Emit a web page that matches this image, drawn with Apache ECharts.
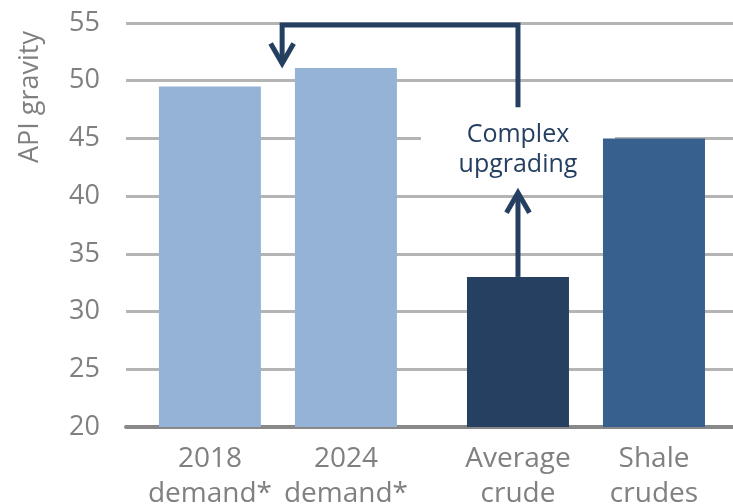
<!DOCTYPE html>
<html>
<head>
<meta charset="utf-8">
<style>
  html, body { margin: 0; padding: 0; background: #ffffff; }
  #chart { width: 733px; height: 504px; }
</style>
<script src="https://cdn.jsdelivr.net/npm/echarts@6/dist/echarts.min.js"></script>
</head>
<body>
<div id="chart"></div>
<script>
// ---- data ----
const categories = ['2018\ndemand*', '2024\ndemand*', 'Average\ncrude', 'Shale\ncrudes'];
const xPositions = [1, 2, 3.265, 4.265];
const apiGravity = [49.5, 51.1, 33.0, 45.0];
const barColors = ['#95B3D7', '#95B3D7', '#254061', '#37608F'];
const yTicks = { min: 20, max: 55, interval: 5 };
const yAxisTitle = 'API gravity';
const annotationText = 'Complex\nupgrading';
const annotationPos = [3.265, 44.0];
const upgradeArrow = [[3.265, 33.0], [3.265, 40.3]];
const returnArrow = [[3.265, 47.7], [3.265, 54.83], [1.531, 54.83], [1.531, 51.5]];

const FONT = '"Open Sans", "Noto Sans", sans-serif';
const GRAY = '#808080';
const NAVY = '#243F60';

const chart = echarts.init(document.getElementById('chart'), null, { renderer: 'canvas' });

function arrowHead(pts) {
  const a = pts[pts.length - 2], b = pts[pts.length - 1];
  const dx = b[0] - a[0], dy = b[1] - a[1];
  const len = Math.sqrt(dx * dx + dy * dy) || 1;
  const ux = dx / len, uy = dy / len;
  const px = -uy, py = ux;
  const back = 20, half = 11.5;
  return [
    [b[0] - ux * back + px * half, b[1] - uy * back + py * half],
    [b[0], b[1]],
    [b[0] - ux * back - px * half, b[1] - uy * back - py * half]
  ];
}

function arrowShapes(api, path) {
  const pts = path.map(p => api.coord(p));
  const line = pts.slice();
  const a = line[line.length - 2], b = line[line.length - 1];
  const dx = b[0] - a[0], dy = b[1] - a[1];
  const len = Math.sqrt(dx * dx + dy * dy) || 1;
  line[line.length - 1] = [b[0] - dx / len * 2, b[1] - dy / len * 2];
  const style = { stroke: NAVY, lineWidth: 5, fill: null, lineJoin: 'miter', lineCap: 'butt' };
  return [
    { type: 'polyline', shape: { points: line }, style: style },
    { type: 'polyline', shape: { points: arrowHead(pts) }, style: style }
  ];
}

const option = {
  animation: false,
  backgroundColor: '#ffffff',
  grid: { left: 126, right: 0, top: 23, bottom: 77, containLabel: false, outerBoundsMode: 'none' },
  xAxis: {
    type: 'value',
    min: 0.383,
    max: 4.846,
    splitLine: { show: false },
    axisTick: { show: false },
    axisLine: { show: true, onZero: false, lineStyle: { color: '#888888', width: 4 } },
    axisLabel: {
      customValues: xPositions,
      formatter: function (v) {
        for (let i = 0; i < xPositions.length; i++) {
          if (Math.abs(xPositions[i] - v) < 1e-6) return categories[i];
        }
        return '';
      },
      color: GRAY,
      fontFamily: FONT,
      fontSize: 28,
      lineHeight: 35,
      margin: 15
    }
  },
  yAxis: {
    type: 'value',
    min: yTicks.min,
    max: yTicks.max,
    interval: yTicks.interval,
    axisLine: { show: false },
    axisTick: { show: false },
    splitLine: { show: true, lineStyle: { color: '#b4b4b4', width: 3 } },
    axisLabel: { color: GRAY, fontFamily: FONT, fontSize: 27, margin: 26 }
  },
  graphic: [{
    type: 'text',
    x: 30,
    y: 97,
    rotation: Math.PI / 2,
    style: {
      text: yAxisTitle,
      fill: GRAY,
      font: '27px ' + FONT,
      align: 'center',
      verticalAlign: 'middle'
    }
  }],
  series: [
    {
      type: 'custom',
      z: 1,
      clip: false,
      silent: true,
      data: [annotationPos],
      renderItem: function (params, api) {
        const c = api.coord(annotationPos);
        return {
          type: 'rect',
          shape: { x: c[0] - 97, y: c[1] - 43, width: 194, height: 86 },
          style: { fill: '#ffffff' }
        };
      }
    },
    {
      type: 'bar',
      z: 2,
      barWidth: 102,
      data: xPositions.map((x, i) => ({ value: [x, apiGravity[i]], itemStyle: { color: barColors[i] } }))
    },
    {
      type: 'custom',
      z: 3,
      clip: false,
      silent: true,
      data: [annotationPos],
      renderItem: function (params, api) {
        const c = api.coord(annotationPos);
        const children = []
          .concat(arrowShapes(api, upgradeArrow))
          .concat(arrowShapes(api, returnArrow));
        children.push({
          type: 'text',
          x: c[0],
          y: c[1],
          style: {
            text: annotationText,
            fill: NAVY,
            font: '25px ' + FONT,
            lineHeight: 30,
            align: 'center',
            verticalAlign: 'middle'
          }
        });
        return { type: 'group', children: children };
      }
    }
  ]
};

chart.setOption(option);
</script>
</body>
</html>
